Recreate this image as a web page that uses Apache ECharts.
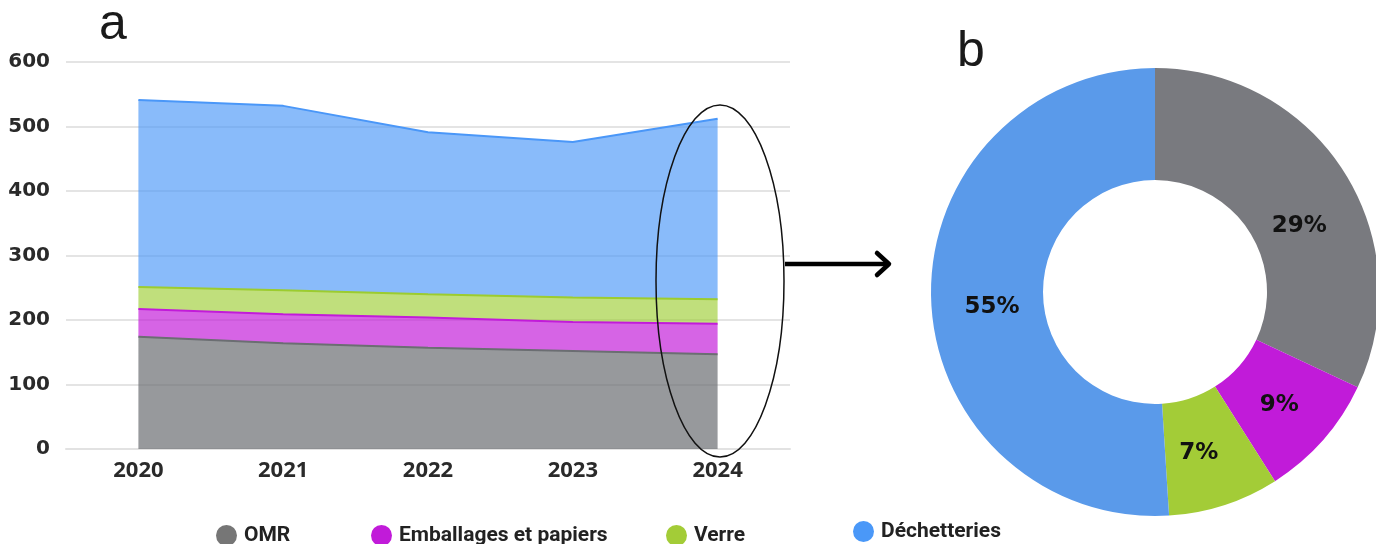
<!DOCTYPE html>
<html>
<head>
<meta charset="utf-8">
<script src="https://cdn.jsdelivr.net/npm/echarts@6/dist/echarts.min.js"></script>
<style>
  html, body { margin: 0; padding: 0; background: #fff; }
  #chart { width: 1376px; height: 544px; }
</style>
</head>
<body>
<div id="chart"></div>
<script>
// données (tonnes)
const years = ["2020", "2021", "2022", "2023", "2024"];
const omr = [174, 164, 157, 152, 147];
const emballages = [43, 45, 47, 45, 47];
const verre = [34, 37, 36, 38, 38];
const dechetteries = [290, 286, 251, 241, 280];
const yTicks = [0, 100, 200, 300, 400, 500, 600];

// donut 2024
const pieNames = ["OMR", "Emballages et papiers", "Verre", "Déchetteries"];
const pieValues = [32, 9, 8, 51];
const pieLabels = ["29%", "9%", "7%", "55%"];

const lineColors = ["#6b6e72", "#c21bd9", "#9ccc2f", "#4a97f8"];
const fillColors = [
  "rgba(107,110,114,0.7)",
  "rgba(194,27,217,0.68)",
  "rgba(156,204,47,0.63)",
  "rgba(74,151,248,0.65)",
];
const legendColors = ["#767676", "#c11bd9", "#a3cc37", "#4a98f8"];
const pieColors = ["#797a7f", "#c11bd9", "#a3cc37", "#5a9aea"];
// petit décalage des étiquettes du donut (comme sur l'original)
const labelShift = [[0, 26], [-4, 0], [-9, -2], [8, 10]];

const areaData = [omr, emballages, verre, dechetteries];

const chart = echarts.init(document.getElementById("chart"));

const legendText = {
  fontFamily: "Roboto, sans-serif",
  fontWeight: "bold",
  fontSize: 21,
  color: "#222",
  padding: [0, 0, 0, 2],
};
function legendAt(name, left, top) {
  return {
    data: [name],
    left: left,
    top: top,
    icon: "circle",
    itemWidth: 21,
    itemHeight: 21,
    itemGap: 0,
    textStyle: legendText,
    selectedMode: false,
  };
}

const option = {
  animation: false,
  grid: { left: 66, right: 586, top: 62, bottom: 95 },
  xAxis: {
    type: "category",
    data: years,
    boundaryGap: true,
    axisLine: { lineStyle: { color: "#e2e2e2", width: 2 } },
    axisTick: { show: false },
    axisLabel: {
      margin: 11,
      fontFamily: "Open Sans, sans-serif",
      fontWeight: "bold",
      fontSize: 22,
      color: "#2a2a2a",
    },
  },
  yAxis: {
    type: "value",
    min: yTicks[0],
    max: yTicks[yTicks.length - 1],
    interval: 100,
    axisLine: { show: false },
    axisTick: { show: false },
    splitLine: { lineStyle: { color: "#e4e4e4", width: 2 } },
    axisLabel: {
      margin: 16,
      fontFamily: "DejaVu Sans, sans-serif",
      fontWeight: "bold",
      fontSize: 20,
      color: "#2a2a2a",
    },
  },
  legend: [
    legendAt("OMR", 211, 520),
    legendAt("Emballages et papiers", 366, 520),
    legendAt("Verre", 661, 520),
    legendAt("Déchetteries", 848, 516),
  ],
  series: pieNames.map((name, i) => ({
    name: name,
    type: "line",
    stack: "total",
    data: areaData[i],
    symbol: "none",
    smooth: false,
    lineStyle: { color: lineColors[i], width: 2 },
    itemStyle: { color: legendColors[i] },
    areaStyle: { color: fillColors[i], opacity: 1 },
    z: 2,
  })).concat([
    {
      name: "2024",
      type: "pie",
      center: [1155, 292],
      radius: [112, 224],
      startAngle: 90,
      clockwise: true,
      silent: true,
      label: {
        show: true,
        position: "inside",
        formatter: (p) => pieLabels[p.dataIndex],
        fontFamily: "DejaVu Sans, sans-serif",
        fontWeight: "bold",
        fontSize: 23,
        color: "#111",
      },
      labelLayout: (p) => ({ dx: labelShift[p.dataIndex][0], dy: labelShift[p.dataIndex][1] }),
      labelLine: { show: false },
      data: pieNames.map((n, i) => ({
        name: n,
        value: pieValues[i],
        itemStyle: { color: pieColors[i] },
      })),
    },
  ]),
  graphic: [
    {
      type: "text",
      left: 99,
      top: 0,
      style: {
        text: "a",
        fontFamily: "Liberation Sans, Arial, sans-serif",
        fontSize: 50,
        fill: "#1a1a1a",
      },
    },
    {
      type: "text",
      left: 957,
      top: 27,
      style: {
        text: "b",
        fontFamily: "Liberation Sans, Arial, sans-serif",
        fontSize: 50,
        fill: "#1a1a1a",
      },
    },
    {
      type: "ellipse",
      z: 100,
      shape: { cx: 720, cy: 281, rx: 64, ry: 176 },
      style: { fill: "none", stroke: "#111", lineWidth: 1.5 },
    },
    {
      type: "line",
      z: 100,
      shape: { x1: 785, y1: 264, x2: 888, y2: 264 },
      style: { stroke: "#000", lineWidth: 4.5 },
    },
    {
      type: "polyline",
      z: 100,
      shape: { points: [[877, 253], [889, 264], [877, 275]] },
      style: { stroke: "#000", lineWidth: 4.5, fill: "none", lineCap: "round", lineJoin: "round" },
    },
  ],
};

chart.setOption(option);
</script>
</body>
</html>
